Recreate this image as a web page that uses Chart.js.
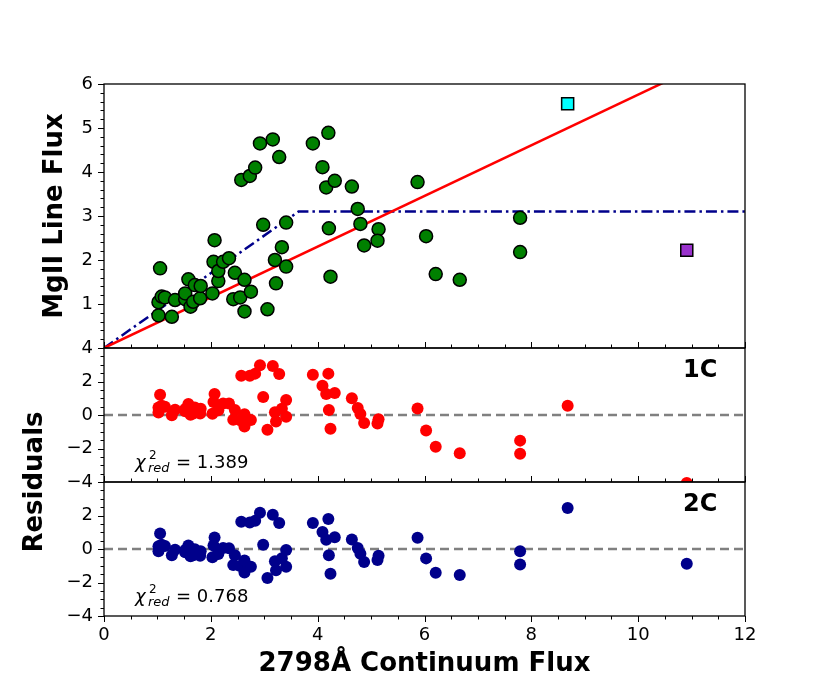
<!DOCTYPE html>
<html>
<head>
<meta charset="utf-8">
<script src="https://cdn.jsdelivr.net/npm/chart.js@4.4.1/dist/chart.umd.min.js"></script>
<style>
  body { margin: 0; background: #fff; }
  #wrap { width: 830px; height: 692px; }
</style>
</head>
<body>
<div id="wrap"><canvas id="myChart" width="830" height="692"></canvas></div>
<script>
// continuum flux (x) and MgII line flux (y) for the main sample
const fluxX = [1.05, 1.02, 1.08, 1.14, 1.02, 1.27, 1.33, 1.52, 1.52, 1.58,
  1.62, 1.67, 1.70, 1.80, 1.81, 2.03, 2.07, 2.05, 2.14, 2.14,
  2.23, 2.34, 2.45, 2.42, 2.55, 2.63, 2.63, 2.75, 2.57, 2.73,
  2.83, 2.92, 3.16, 3.28, 2.98, 3.06, 3.20, 3.33, 3.41, 3.41,
  3.22, 3.91, 4.20, 4.09, 4.16, 4.32, 4.21, 4.24, 4.64, 4.75,
  4.80, 5.14, 5.12, 4.87, 5.87, 6.03, 6.21, 6.66, 7.79, 7.79];
const fluxY = [1.81, 1.04, 1.17, 1.15, 0.74, 0.71, 1.09, 1.11, 1.24, 1.56,
  0.94, 1.05, 1.43, 1.13, 1.41, 1.24, 2.45, 1.96, 1.52, 1.75,
  1.96, 2.04, 1.71, 1.11, 1.15, 1.55, 0.83, 1.28, 3.82, 3.91,
  4.10, 4.65, 4.74, 4.34, 2.80, 0.88, 2.00, 2.29, 2.85, 1.85,
  1.47, 4.65, 4.89, 4.11, 3.65, 3.80, 2.72, 1.62, 3.67, 3.16,
  2.82, 2.70, 2.44, 2.33, 3.77, 2.54, 1.68, 1.55, 2.96, 2.18];

// the two square markers
const extraX = [8.68, 10.91];
const extraY = [5.55, 2.22];
const extraColors = ['#00ffff', '#9932cc'];

// fitted models
const fit1CX = [0, 12];
const fit1CY = [0, 6.91];
const fit2CX = [0, 3.64, 12];
const fit2CY = [0, 3.1, 3.1];

// residuals, same order as fluxX then extraX
const res1C = [1.21, 0.45, 0.55, 0.49, 0.15, -0.02, 0.32, 0.23, 0.36, 0.65,
  0.01, 0.09, 0.45, 0.09, 0.37, 0.07, 1.26, 0.78, 0.29, 0.52,
  0.68, 0.69, 0.30, -0.28, -0.32, 0.04, -0.69, -0.30, 2.34, 2.34,
  2.47, 2.97, 2.92, 2.45, 1.08, -0.88, 0.16, 0.37, 0.89, -0.11,
  -0.39, 2.40, 2.47, 1.75, 1.25, 1.31, 0.30, -0.82, 1.00, 0.42,
  0.06, -0.26, -0.51, -0.48, 0.39, -0.93, -1.90, -2.29, -1.53, -2.31,
  0.55, -4.06];
const res2C = [0.92, 0.17, 0.25, 0.18, -0.13, -0.37, -0.04, -0.19, -0.06, 0.21,
  -0.44, -0.37, -0.02, -0.40, -0.13, -0.49, 0.69, 0.21, -0.30, -0.07,
  0.06, 0.05, -0.38, -0.95, -1.02, -0.69, -1.41, -1.06, 1.63, 1.58,
  1.69, 2.16, 2.05, 1.55, 0.26, -1.73, -0.73, -0.55, -0.06, -1.06,
  -1.27, 1.55, 1.79, 1.01, 0.55, 0.70, -0.38, -1.48, 0.57, 0.06,
  -0.28, -0.40, -0.66, -0.77, 0.67, -0.56, -1.42, -1.55, -0.14, -0.92,
  2.45, -0.88];
const chi1C = '1.389';
const chi2C = '0.768';

const FONT = "'DejaVu Sans', sans-serif";
const residX = fluxX.concat(extraX);
const pts = (xs, ys) => xs.map((x, i) => ({x: x, y: ys[i]}));
const minus = v => (v < 0 ? '\u2212' + Math.abs(v) : '' + v);

// frames, tick marks and the text annotations
const decor = {
  id: 'decor',
  afterDraw(chart) {
    const ctx = chart.ctx;
    const a = chart.chartArea;
    const sx = chart.scales.x;
    const panels = [
      {s: chart.scales.y, minor: 0.2, major: 1, xdir: -1},
      {s: chart.scales.y1, minor: 0.5, major: 2, xdir: -1},
      {s: chart.scales.y2, minor: 0.5, major: 2, xdir: 1}
    ];
    ctx.save();
    ctx.strokeStyle = '#000';
    ctx.lineWidth = 1;
    panels.forEach(p => {
      const s = p.s;
      const n = Math.round((s.max - s.min) / p.minor);
      for (let i = 0; i <= n; i++) {
        const v = s.min + i * p.minor;
        const major = Math.abs(v / p.major - Math.round(v / p.major)) < 1e-6;
        const py = Math.round(s.getPixelForValue(v)) + 0.5;
        ctx.beginPath();
        ctx.moveTo(a.left - (major ? 6 : 3.5), py);
        ctx.lineTo(a.left, py);
        ctx.stroke();
      }
      for (let i = 0; i <= 24; i++) {
        const v = i * 0.5;
        const major = i % 4 === 0;
        const px = Math.round(sx.getPixelForValue(v)) + 0.5;
        const len = (major ? 6 : 3.5) * p.xdir;
        ctx.beginPath();
        ctx.moveTo(px, s.bottom);
        ctx.lineTo(px, s.bottom + len);
        ctx.stroke();
      }
    });
    ctx.lineWidth = 1.3;
    panels.forEach(p => {
      ctx.strokeRect(a.left, p.s.top, a.right - a.left, p.s.bottom - p.s.top);
    });

    ctx.fillStyle = '#000';
    // axis titles
    ctx.font = 'bold 26px ' + FONT;
    ctx.textAlign = 'center';
    ctx.textBaseline = 'middle';
    ctx.fillText('2798\u00c5 Continuum Flux', (a.left + a.right) / 2, 664);
    ctx.save();
    ctx.translate(55, (chart.scales.y.top + chart.scales.y.bottom) / 2);
    ctx.rotate(-Math.PI / 2);
    ctx.fillText('MgII Line Flux', 0, 0);
    ctx.restore();
    ctx.save();
    ctx.translate(35, chart.scales.y1.bottom);
    ctx.rotate(-Math.PI / 2);
    ctx.fillText('Residuals', 0, 0);
    ctx.restore();

    // panel tags and reduced chi-square
    ctx.textBaseline = 'alphabetic';
    ctx.textAlign = 'left';
    [[chart.scales.y1, '1C', chi1C], [chart.scales.y2, '2C', chi2C]].forEach(t => {
      const top = t[0].top;
      ctx.font = 'bold 24px ' + FONT;
      ctx.fillText(t[1], 683, top + 29);
      const base = top + 120;
      ctx.font = 'italic 18px ' + FONT;
      ctx.fillText('\u03c7', 135, base);
      ctx.font = '12px ' + FONT;
      ctx.fillText('2', 149, base - 9);
      ctx.font = 'italic 13px ' + FONT;
      ctx.fillText('red', 148, base + 4);
      ctx.font = '18px ' + FONT;
      ctx.fillText('= ' + t[2], 176, base);
    });
    ctx.restore();
  }
};

const data = {
  datasets: [
    {
      label: 'sample',
      data: pts(fluxX, fluxY),
      yAxisID: 'y',
      backgroundColor: '#008000',
      borderColor: '#000',
      borderWidth: 1.5,
      pointRadius: 6.5,
      pointHoverRadius: 6.5
    },
    {
      label: 'extra',
      data: pts(extraX, extraY),
      yAxisID: 'y',
      pointStyle: 'rect',
      backgroundColor: extraColors,
      borderColor: '#000',
      borderWidth: 1.5,
      pointRadius: 8.5,
      pointHoverRadius: 8.5
    },
    {
      label: '1C fit',
      data: pts(fit1CX, fit1CY),
      yAxisID: 'y',
      showLine: true,
      pointRadius: 0,
      borderColor: '#ff0000',
      borderWidth: 2.5
    },
    {
      label: '2C fit',
      data: pts(fit2CX, fit2CY),
      yAxisID: 'y',
      showLine: true,
      pointRadius: 0,
      borderColor: '#00008b',
      borderWidth: 2.5,
      borderDash: [11, 4, 2.5, 4]
    },
    {
      label: '1C residuals',
      data: pts(residX, res1C),
      yAxisID: 'y1',
      backgroundColor: '#ff0000',
      borderWidth: 0,
      pointRadius: 6,
      pointHoverRadius: 6
    },
    {
      label: '1C zero',
      data: pts([0, 12], [0, 0]),
      yAxisID: 'y1',
      showLine: true,
      pointRadius: 0,
      borderColor: '#808080',
      borderWidth: 2.5,
      borderDash: [9, 5]
    },
    {
      label: '2C residuals',
      data: pts(residX, res2C),
      yAxisID: 'y2',
      backgroundColor: '#00008b',
      borderWidth: 0,
      pointRadius: 6,
      pointHoverRadius: 6
    },
    {
      label: '2C zero',
      data: pts([0, 12], [0, 0]),
      yAxisID: 'y2',
      showLine: true,
      pointRadius: 0,
      borderColor: '#808080',
      borderWidth: 2.5,
      borderDash: [9, 5]
    }
  ]
};

const yAxis = (min, max, step, weight, hide) => ({
  type: 'linear',
  position: 'left',
  stack: 'panels',
  stackWeight: weight,
  min: min,
  max: max,
  grid: {display: false, drawTicks: false},
  border: {display: false},
  afterFit: s => { s.width = 104; },
  ticks: {
    stepSize: step,
    autoSkip: false,
    padding: 11,
    color: '#000',
    font: {family: FONT, size: 18},
    callback: v => (v === hide ? '' : minus(v))
  }
});

const config = {
  type: 'scatter',
  data: data,
  options: {
    responsive: false,
    animation: false,
    layout: {padding: {left: 0, right: 85, top: 84, bottom: 0}},
    plugins: {legend: {display: false}, tooltip: {enabled: false}},
    scales: {
      x: {
        type: 'linear',
        min: 0,
        max: 12,
        grid: {display: false, drawTicks: false},
        border: {display: false},
        afterFit: s => { s.height = 76; },
        ticks: {
          stepSize: 2,
          autoSkip: false,
          padding: 9,
          color: '#000',
          maxRotation: 0,
          font: {family: FONT, size: 18}
        }
      },
      y2: yAxis(-4, 4, 2, 134, 4),
      y1: yAxis(-4, 4, 2, 134, null),
      y: yAxis(0, 6, 1, 264, 0)
    }
  },
  plugins: [decor]
};

const myChart = new Chart(document.getElementById('myChart'), config);
</script>
</body>
</html>
